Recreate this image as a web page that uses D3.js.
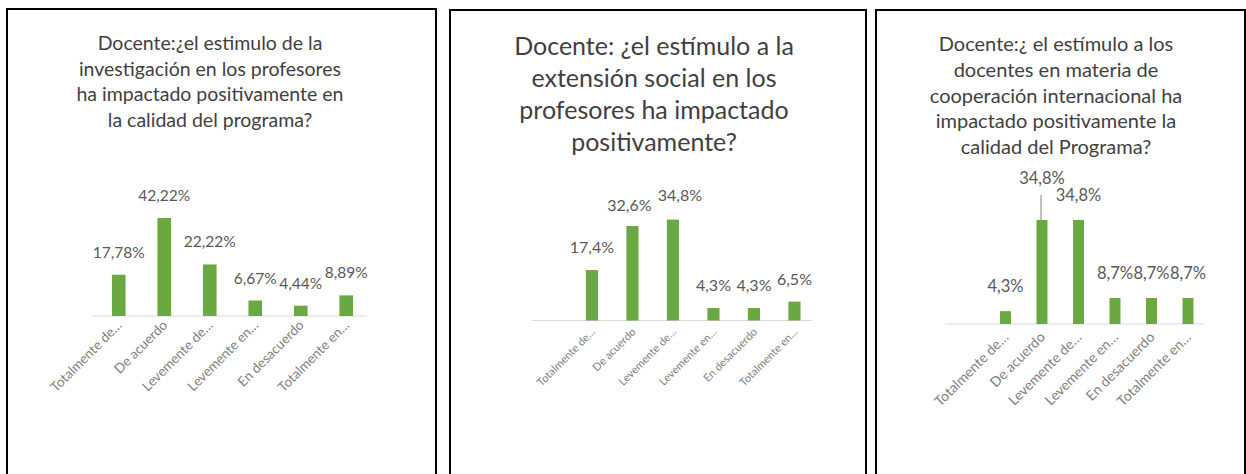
<!DOCTYPE html>
<html>
<head>
<meta charset="utf-8">
<script src="https://cdn.jsdelivr.net/npm/d3@7"></script>
<style>
  html, body { margin: 0; padding: 0; background: #fff; }
  svg { display: block; }
</style>
</head>
<body>
<svg id="chart" width="1246" height="474"></svg>
<script>
// ---- data ----
const categories = ["Totalmente de…", "De acuerdo", "Levemente de…", "Levemente en…", "En desacuerdo", "Totalmente en…"];

const titleInvestigacion = ["Docente:¿el estimulo de la", "investigación en los profesores", "ha impactado positivamente en", "la calidad del programa?"];
const valuesInvestigacion = [17.78, 42.22, 22.22, 6.67, 4.44, 8.89];

const titleExtension = ["Docente: ¿el estímulo a la", "extensión social en los", "profesores ha impactado", "positivamente?"];
const valuesExtension = [17.4, 32.6, 34.8, 4.3, 4.3, 6.5];

const titleCooperacion = ["Docente:¿ el estímulo a los", "docentes en materia de", "cooperación internacional ha", "impactado positivamente la", "calidad del Programa?"];
const valuesCooperacion = [4.3, 34.8, 34.8, 8.7, 8.7, 8.7];

// ---- formatting (Spanish decimal comma) ----
const es = d3.formatLocale({decimal: ",", thousands: ".", grouping: [3], currency: ["", " €"]});
const fmt2 = v => es.format(".2f")(v) + "%";
const fmt1 = v => es.format(".1f")(v) + "%";

const svg = d3.select("#chart");
const FONT = "Lato, 'Open Sans', sans-serif";

const panels = [
  {
    title: titleInvestigacion, values: valuesInvestigacion, fmt: fmt2,
    box: [7, 9, 436, 490],
    titleX: 210, titleY: 50, titleLH: 25.7, titleSize: 19.5,
    band: [96, 369], axis: [92, 367], base: 316, yMax: 50, yTop: 200,
    valSize: 15.5, valGap: 17, catSize: 13.5, catDy: 10,
    leader: -1, nudge: {}
  },
  {
    title: titleExtension, values: valuesExtension, fmt: fmt1,
    box: [450, 10, 866, 490],
    titleX: 654, titleY: 55, titleLH: 32, titleSize: 25,
    band: [571.7, 814.7], axis: [532, 812], base: 320.5, yMax: 40, yTop: 204.5,
    valSize: 16, valGap: 17, catSize: 11, catDy: 12,
    leader: -1, nudge: {1: [-3, 2], 2: [7, -2]}
  },
  {
    title: titleCooperacion, values: valuesCooperacion, fmt: fmt1,
    box: [876, 10, 1245, 490],
    titleX: 1056, titleY: 51, titleLH: 25.8, titleSize: 20,
    band: [987.25, 1206.25], axis: [945, 1204], base: 324, yMax: 40, yTop: 204.4,
    valSize: 16.5, valGap: 19, catSize: 14, catDy: 14,
    leader: 1, nudge: {}
  }
];

panels.forEach(p => {
  const g = svg.append("g");

  // border
  g.append("rect")
    .attr("x", p.box[0]).attr("y", p.box[1])
    .attr("width", p.box[2] - p.box[0]).attr("height", p.box[3] - p.box[1])
    .attr("fill", "none").attr("stroke", "#000").attr("stroke-width", 2);

  // title
  const t = g.append("text")
    .attr("x", p.titleX).attr("y", p.titleY)
    .attr("text-anchor", "middle")
    .attr("font-family", FONT).attr("font-size", p.titleSize)
    .attr("fill", "#3f3f3f");
  p.title.forEach((line, i) => {
    t.append("tspan").attr("x", p.titleX).attr("y", p.titleY + i * p.titleLH).text(line);
  });

  const x = d3.scaleBand().domain(categories).range(p.band).paddingInner(0.7).paddingOuter(0.35);
  const y = d3.scaleLinear().domain([0, p.yMax]).range([p.base, p.yTop]);

  // axis line (category axis, no ticks)
  g.append("line")
    .attr("x1", p.axis[0]).attr("x2", p.axis[1])
    .attr("y1", p.base).attr("y2", p.base)
    .attr("stroke", "#d9d9d9").attr("stroke-width", 1);

  // bars
  g.selectAll("rect.bar").data(p.values).join("rect")
    .attr("class", "bar")
    .attr("x", (d, i) => x(categories[i]))
    .attr("width", x.bandwidth())
    .attr("y", d => y(d))
    .attr("height", d => y(0) - y(d))
    .attr("fill", "#6aa842");

  // value labels
  g.selectAll("text.val").data(p.values).join("text")
    .attr("class", "val")
    .attr("x", (d, i) => x(categories[i]) + x.bandwidth() / 2 + (p.nudge[i] ? p.nudge[i][0] : 0))
    .attr("y", (d, i) => y(d) - p.valGap - (i === p.leader ? 17 : 0) + (p.nudge[i] ? p.nudge[i][1] : 0))
    .attr("text-anchor", "middle")
    .attr("font-family", FONT).attr("font-size", p.valSize)
    .attr("fill", "#595959")
    .text(d => p.fmt(d));

  // leader line
  if (p.leader >= 0) {
    const cx = x(categories[p.leader]) + x.bandwidth() / 2 - 1;
    g.append("line")
      .attr("x1", cx).attr("x2", cx)
      .attr("y1", y(p.values[p.leader]) - 25)
      .attr("y2", y(p.values[p.leader]))
      .attr("stroke", "#808080").attr("stroke-width", 1);
  }

  // category labels
  g.selectAll("text.cat").data(categories).join("text")
    .attr("class", "cat")
    .attr("transform", d => `translate(${x(d) + x.bandwidth() / 2 + 4},${p.base + p.catDy}) rotate(-45)`)
    .attr("text-anchor", "end")
    .attr("font-family", FONT).attr("font-size", p.catSize)
    .attr("fill", "#7f7f7f")
    .text(d => d);
});
</script>
</body>
</html>
